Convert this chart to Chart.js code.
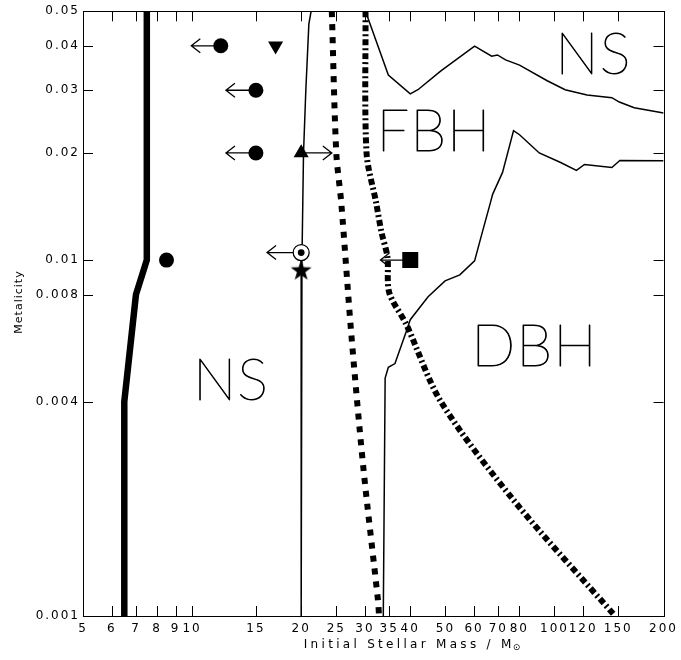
<!DOCTYPE html>
<html><head><meta charset="utf-8">
<script src="https://cdn.jsdelivr.net/npm/chart.js@4"></script>
<style>html,body{margin:0;padding:0;background:#fff;}#wrap{width:681px;height:660px;}</style>
</head><body><div id="wrap"><canvas id="c" width="681" height="660"></canvas></div>
<script>
// ---- tick values / labels ----
const xTickValues = [5,6,7,8,9,10,15,20,25,30,35,40,50,60,70,80,100,120,150,200];
const xTickLabels = ['5','6','7','8','9','10','15','20','25','30','35','40','50','60','70','80','100','120','150','200'];
const yTickValues = [0.001,0.004,0.008,0.01,0.02,0.03,0.04,0.05];
const yTickLabels = ['0.001','0.004','0.008','0.01','0.02','0.03','0.04','0.05'];

// ---- boundary curves (mass, metallicity) ----
const thickMass = [7.5,7.5,7.0,6.5,6.5];
const thickZ    = [0.05,0.01,0.008,0.004,0.001];
const thinMass  = [21.3,21.0,20.6,20.3,20.1,20.0,20.0];
const thinZ     = [0.05,0.046,0.03,0.02,0.01,0.004,0.001];
const dottedMass = [24.3,25.0,25.8,27.5,29.7,32.6,32.8];
const dottedZ    = [0.05,0.02,0.0145,0.0062,0.0026,0.0011,0.001];
const dashDotMass = [30.1,30.3,32.2,33.3,34.6,35.0,39.0,48.6,77.6,147];
const dashDotZ    = [0.05,0.02,0.0145,0.012,0.0102,0.0081,0.0066,0.004,0.0021,0.001];
const upperMass = [30.1,34.8,40.0,42.0,48.6,60.2,67.1,69.6,73.3,80.1,95.5,107,123,144,151,166,200];
const upperZ    = [0.05,0.0331,0.0293,0.0301,0.034,0.0399,0.0374,0.0377,0.0365,0.0353,0.0319,0.0301,0.0291,0.0286,0.0278,0.0268,0.0259];
const lowerMass = [33.7,34.1,34.8,36.3,39.0,40.0,44.8,49.9,54.8,60.2,63.4,66.6,67.5,71.9,77.1,80.1,90.8,104,115,121,144,151.5,200];
const lowerZ    = [0.001,0.00466,0.0050,0.00512,0.0063,0.0068,0.00789,0.00874,0.00909,0.00995,0.0121,0.01453,0.0153,0.01763,0.0231,0.0225,0.0200,0.0188,0.01786,0.01856,0.0182,0.01905,0.0190];

// ---- observed objects ----
const circleMass = [12,15,15,8.5];
const circleZ    = [0.04,0.03,0.02,0.01];
const downTriMass = [17];
const downTriZ    = [0.04];
const upTriMass = [20];
const upTriZ    = [0.02];
const openCircleMass = [20];
const openCircleZ    = [0.0105];
const starMass = [20];
const starZ    = [0.0094];
const squareMass = [40];
const squareZ    = [0.01];
// limit arrows (from mass -> to mass, at metallicity)
const arrowFromMass = [12,15,15,20,20,40];
const arrowToMass   = [9.95,12.4,12.4,24.3,16.1,33.1];
const arrowZ        = [0.04,0.03,0.02,0.02,0.0105,0.01];

// ---- region labels ----
const regionText = ['NS','FBH','NS','DBH'];
const regionMass = [12.8,46.5,128,88];
const regionZ    = [0.00457,0.0228,0.0377,0.0057];

const pts = (xs, ys) => xs.map((x,i)=>({x:x, y:ys[i]}));

function makeStar(R){
  const s = Math.ceil(2*R+2);
  const c = document.createElement('canvas'); c.width = s; c.height = s;
  const g = c.getContext('2d');
  g.beginPath();
  for (let i=0;i<10;i++){
    const r = i%2 ? R*0.4 : R;
    const a = -Math.PI/2 + i*Math.PI/5;
    const px = s/2 + r*Math.cos(a), py = s/2 + r*Math.sin(a) + R*0.1;
    if (i) g.lineTo(px,py); else g.moveTo(px,py);
  }
  g.closePath(); g.fillStyle = '#000'; g.fill();
  return c;
}

const lineDs = (xs, ys, w, dash, tension) => ({
  type:'line', data: pts(xs,ys), showLine:true, borderColor:'#000', borderWidth:w, order:2,
  borderDash: dash, borderCapStyle:'butt', borderJoinStyle:'miter', pointRadius:0, tension: tension, fill:false
});
const ptDs = (xs, ys, style, r, opts) => Object.assign({
  data: pts(xs,ys), showLine:false, pointStyle:style, pointRadius:r, pointHoverRadius:r, order:1,
  backgroundColor:'#000', borderColor:'#000', borderWidth:0
}, opts||{});

const framePlugin = {
  id:'frame',
  beforeDraw(chart){ chart.ctx.letterSpacing = '2px'; },
  beforeDatasetsDraw(chart){
    const ctx = chart.ctx, xs = chart.scales.x, ys = chart.scales.y;
    ctx.save();
    ctx.letterSpacing = '0px';
    ctx.strokeStyle = '#000'; ctx.lineWidth = 1.3;
    for (let i=0;i<arrowZ.length;i++){
      const x0 = xs.getPixelForValue(arrowFromMass[i]);
      const x1 = xs.getPixelForValue(arrowToMass[i]);
      const y = ys.getPixelForValue(arrowZ[i]);
      const d = Math.sign(x1-x0);
      ctx.beginPath();
      ctx.moveTo(x0,y); ctx.lineTo(x1,y);
      ctx.moveTo(x1-d*9,y-7); ctx.lineTo(x1,y); ctx.lineTo(x1-d*9,y+7);
      ctx.stroke();
    }
    ctx.restore();
  },
  afterDraw(chart){
    const ctx = chart.ctx, a = chart.chartArea, xs = chart.scales.x, ys = chart.scales.y;
    ctx.save();
    ctx.letterSpacing = '0px';
    ctx.strokeStyle = '#000'; ctx.lineWidth = 1;
    ctx.strokeRect(Math.round(a.left)+0.5, Math.round(a.top)+0.5, Math.round(a.right-a.left), Math.round(a.bottom-a.top));
    ctx.beginPath();
    const L = 10;
    xTickValues.forEach(v=>{
      const px = Math.round(xs.getPixelForValue(v))+0.5;
      ctx.moveTo(px, a.bottom); ctx.lineTo(px, a.bottom-L);
      ctx.moveTo(px, a.top); ctx.lineTo(px, a.top+L);
    });
    yTickValues.forEach(v=>{
      const py = Math.round(ys.getPixelForValue(v))+0.5;
      ctx.moveTo(a.left, py); ctx.lineTo(a.left+L, py);
      ctx.moveTo(a.right, py); ctx.lineTo(a.right-L, py);
    });
    ctx.stroke();
    // region labels (thin strokes)
    ctx.fillStyle = '#000'; ctx.strokeStyle = '#000'; ctx.lineWidth = 0.9; ctx.lineJoin = 'round';
    ctx.font = '200 58px Lato, "Noto Sans", sans-serif';
    ctx.textAlign = 'center'; ctx.textBaseline = 'middle';
    ctx.letterSpacing = '1px';
    regionText.forEach((t,i)=>{
      const px = xs.getPixelForValue(regionMass[i]), py = ys.getPixelForValue(regionZ[i]);
      ctx.fillText(t, px, py);
      ctx.strokeText(t, px, py);
    });
    // axis titles
    ctx.font = '12px "DejaVu Sans"';
    ctx.letterSpacing = '3.3px';
    const main = 'Initial Stellar Mass / M';
    const w1 = ctx.measureText(main).width;
    ctx.font = '9px "DejaVu Sans"'; ctx.letterSpacing = '0px';
    const w2 = ctx.measureText('\u2299').width;
    const cx = 413, cy = 645;
    const x0 = cx - (w1+w2)/2;
    ctx.textAlign = 'left';
    ctx.font = '12px "DejaVu Sans"'; ctx.letterSpacing = '3.3px';
    ctx.fillText(main, x0, cy);
    ctx.font = '9px "DejaVu Sans"'; ctx.letterSpacing = '0px';
    ctx.fillText('\u2299', x0 + w1 - 2, cy + 3);
    ctx.translate(19, 302);
    ctx.rotate(-Math.PI/2);
    ctx.textAlign = 'center';
    ctx.font = '11px "DejaVu Sans"'; ctx.letterSpacing = '1px';
    ctx.fillText('Metalicity', 0, 0);
    ctx.restore();
  }
};

new Chart(document.getElementById('c'), {
  type:'scatter',
  data:{ datasets:[
    lineDs(thickMass, thickZ, 6.5, [], 0),
    lineDs(thinMass, thinZ, 1.5, [], 0),
    lineDs(dottedMass, dottedZ, 6, [6,7], 0.3),
    lineDs(dashDotMass, dashDotZ, 6, [6,3,2,3], 0.3),
    lineDs(upperMass, upperZ, 1.5, [], 0),
    lineDs(lowerMass, lowerZ, 1.5, [], 0),
    ptDs(circleMass, circleZ, 'circle', 7.5),
    ptDs(downTriMass, downTriZ, 'triangle', 8.7, {rotation:180}),
    ptDs(upTriMass, upTriZ, 'triangle', 8.7),
    ptDs(openCircleMass, openCircleZ, 'circle', 3.4, {order:0}),
    ptDs(openCircleMass, openCircleZ, 'circle', 8, {backgroundColor:'#fff', borderWidth:1.3}),
    ptDs(starMass, starZ, makeStar(11), 11),
    ptDs(squareMass, squareZ, 'rect', 11.3)
  ]},
  options:{
    responsive:false, animation:false, devicePixelRatio:1,
    layout:{padding:{top:8,right:14,left:0,bottom:0}},
    plugins:{legend:{display:false}, tooltip:{enabled:false}},
    scales:{
      x:{type:'logarithmic', min:5, max:200,
        afterBuildTicks:s=>{ s.ticks = xTickValues.map(v=>({value:v})); },
        afterFit:s=>{ s.height = 44; },
        grid:{display:false, drawTicks:false}, border:{display:false},
        ticks:{autoSkip:false, maxRotation:0, minRotation:0, padding:6, color:'#000',
          font:{family:'DejaVu Sans', size:12}, callback:(v,i)=>xTickLabels[i]}},
      y:{type:'logarithmic', min:0.001, max:0.05,
        afterBuildTicks:s=>{ s.ticks = yTickValues.map(v=>({value:v})); },
        afterFit:s=>{ s.width = 83; },
        grid:{display:false, drawTicks:false}, border:{display:false},
        ticks:{autoSkip:false, padding:3, color:'#000',
          font:{family:'DejaVu Sans', size:12}, callback:(v,i)=>yTickLabels[i]}}
    }
  },
  plugins:[framePlugin]
});
</script>
</body></html>
